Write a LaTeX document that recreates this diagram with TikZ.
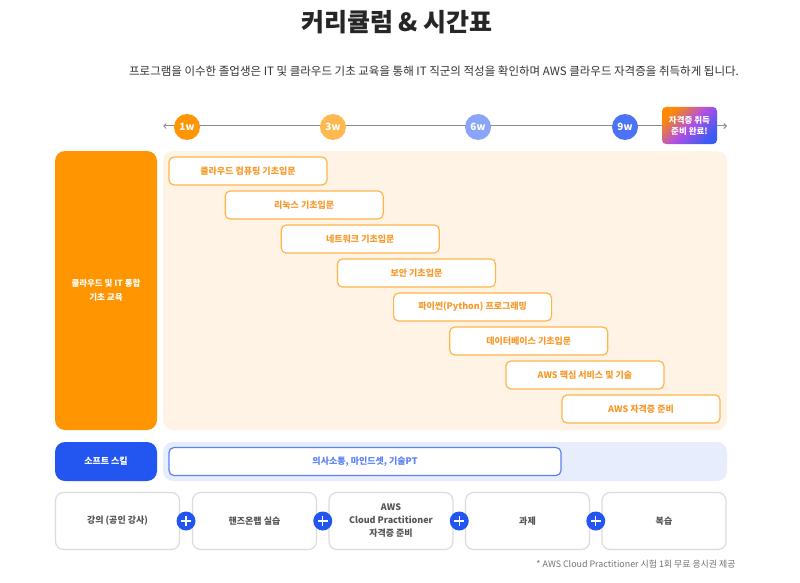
\documentclass[tikz,border=0pt]{standalone}
\usepackage{fontspec}
\setmainfont{Noto Sans CJK KR}
\usetikzlibrary{arrows.meta,calc}
\definecolor{orA}{HTML}{FF9500}
\definecolor{orB}{HTML}{FFB950}
\definecolor{orBg}{HTML}{FFF3E6}
\definecolor{orLine}{HTML}{FFB54A}
\definecolor{orTxt}{HTML}{F7992A}
\definecolor{blA}{HTML}{2356F0}
\definecolor{blB}{HTML}{8AA5F8}
\definecolor{blC}{HTML}{4C73F5}
\definecolor{blBg}{HTML}{E7EDFD}
\definecolor{blLine}{HTML}{5B7FF5}
\definecolor{grLine}{HTML}{DCDCDC}
\definecolor{grTxt}{HTML}{555555}
\definecolor{gOr}{HTML}{FF8A00}
\definecolor{gPu}{HTML}{B24FE3}
\definecolor{gBl}{HTML}{3A5CF3}
\tikzset{
  panel/.style={inner sep=0pt, rounded corners=10pt, minimum width=102pt},
  band/.style={inner sep=0pt, rounded corners=10pt, minimum width=564pt},
  course/.style={draw=orLine, line width=1.2pt, fill=white, rounded corners=5pt, minimum width=158pt, minimum height=28pt, inner sep=0pt, text=orTxt, font=\fontsize{9}{11}\selectfont\bfseries},
  wk/.style={circle, minimum size=26pt, inner sep=0pt, text=white, font=\fontsize{10}{12}\selectfont\bfseries},
  method/.style={draw=grLine, line width=1.2pt, fill=white, rounded corners=8pt, minimum width=124pt, minimum height=57pt, inner sep=0pt, text=grTxt, align=center, font=\fontsize{9}{13}\selectfont\bfseries},
  plus/.style={circle, fill=blA, minimum size=19pt, inner sep=0pt},
}
\begin{document}
\begin{tikzpicture}[x=1pt,y=-1pt]
\useasboundingbox[fill=white] (0,0) rectangle (800,583);
% title
\node[font=\fontsize{25}{30}\selectfont\bfseries, text=black!85] (title) at (397,22) {커리큘럼 \& 시간표};
\node[font=\fontsize{11.5}{14}\selectfont, text=black!80] (sub) at (434,71) {프로그램을 이수한 졸업생은 IT 및 클라우드 기초 교육을 통해 IT 직군의 적성을 확인하며 AWS 클라우드 자격증을 취득하게 됩니다.};
% timeline
\coordinate (tl) at (163,126);
\coordinate (tr) at (727,126);
\draw[black!45, line width=1pt, {Straight Barb[length=2.5pt,width=5pt]}-{Straight Barb[length=2.5pt,width=5pt]}] (tl) -- (tr);
\node[wk, fill=orA] (w1) at (187,127) {1w};
\node[wk, fill=orB] (w3) at (333,127) {3w};
\node[wk, fill=blB] (w6) at (478,127) {6w};
\node[wk, fill=blC] (w9) at (625,127) {9w};
\shade[rounded corners=4pt, left color=gOr, right color=gBl, middle color=gPu, shading angle=45] (662,107) rectangle (717,144);
\node[text=white, align=center, font=\fontsize{8.5}{11}\selectfont\bfseries] (badge) at (689.5,125.5) {자격증 취득\\준비 완료!};
% orange panel
\node[panel, fill=orA, minimum height=279pt, text=white, align=center, font=\fontsize{8.5}{14}\selectfont\bfseries] (cloud) at (106,290.5) {클라우드 및 IT 통합\\기초 교육};
\node[band, fill=orBg, minimum height=279pt] (orband) at (445,290.5) {};
\foreach \i/\t in {0/클라우드 컴퓨팅 기초입문,1/리눅스 기초입문,2/네트워크 기초입문,3/보안 기초입문,4/파이썬(Python) 프로그래밍,5/데이터베이스 기초입문,6/AWS 핵심 서비스 및 기술,7/AWS 자격증 준비}{
  \node[course] (c\i) at ({248+56.15*\i},{171+34*\i}) {\t};
}
% soft skill
\node[panel, fill=blA, minimum height=39pt, text=white, font=\fontsize{9}{11}\selectfont\bfseries] (soft) at (106,461.5) {소프트 스킬};
\node[band, fill=blBg, minimum height=39pt] (blband) at (445,461.5) {};
\node[draw=blLine, line width=1.2pt, fill=white, rounded corners=5pt, minimum width=392pt, minimum height=28pt, inner sep=0pt, text=blLine, font=\fontsize{9}{11}\selectfont\bfseries] (comm) at (365,461.5) {의사소통, 마인드셋, 기술PT};
% methods
\node[method] (m1) at (117.5,521) {강의 (공인 강사)};
\node[method] (m2) at (254.5,521) {핸즈온랩 실습};
\node[method] (m3) at (391,521) {AWS\\Cloud Practitioner\\자격증 준비};
\node[method] (m4) at (527.5,521) {과제};
\node[method] (m5) at (664,521) {복습};
\foreach \a/\b/\n in {m1/m2/p1,m2/m3/p2,m3/m4/p3,m4/m5/p4}{
  \node[plus] (\n) at ($(\a.east)!0.5!(\b.west)$) {};
  \draw[white, line width=1.3pt] ([xshift=-5pt]\n.center) -- ([xshift=5pt]\n.center) ([yshift=-5pt]\n.center) -- ([yshift=5pt]\n.center);
}
\node[anchor=east, text=black!55, font=\fontsize{8.9}{10}\selectfont] (note) at (739,564) {* AWS Cloud Practitioner 시험 1회 무료 응시권 제공};
\end{tikzpicture}
\end{document}
